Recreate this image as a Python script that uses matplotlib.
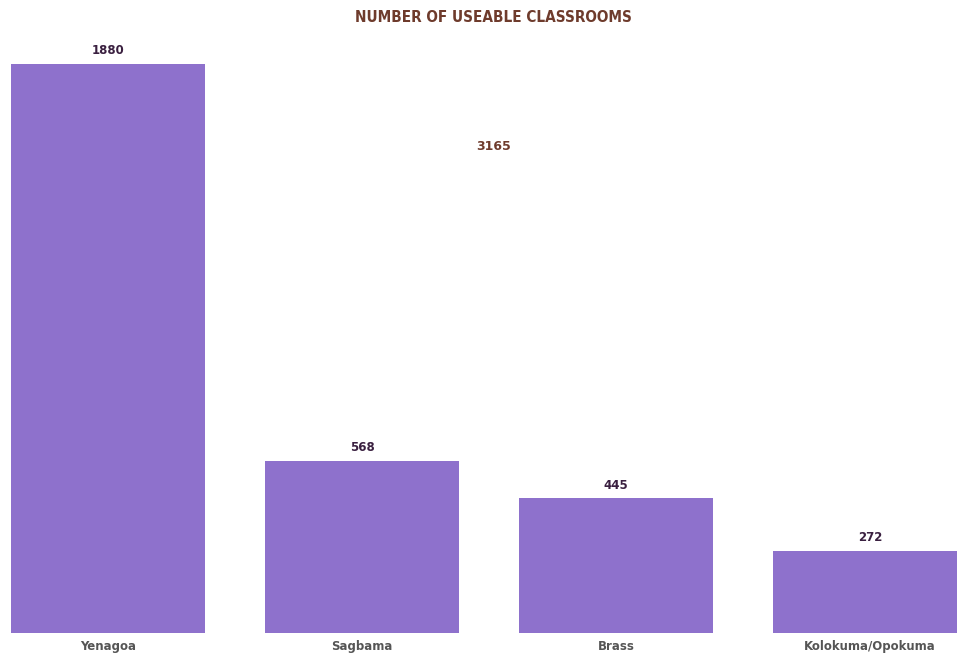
import matplotlib
matplotlib.use("Agg")
import matplotlib.pyplot as plt

categories = ["Yenagoa", "Sagbama", "Brass", "Kolokuma/Opokuma"]
classrooms = [1880, 568, 445, 272]
total = sum(classrooms)

W, H = 957, 654
fig = plt.figure(figsize=(W / 100, H / 100), dpi=100)
fig.patch.set_facecolor("white")

# Axes spanning the full width; baseline at y=633 px, top at y=40 px
base_px, top_px = 633, 40
ax = fig.add_axes([0, (H - base_px) / H, 1, (base_px - top_px) / H])
px_per_unit = 569 / 1880
ax.set_ylim(0, (base_px - top_px) / px_per_unit)
ax.set_xlim(-108 / 254, (957 - 108) / 254)

x = list(range(len(categories)))
ax.bar(x, classrooms, width=194 / 254, color="#8E71CC", zorder=2)

for xi, v in zip(x, classrooms):
    ax.text(xi, v + 22, f"{v}", ha="center", va="bottom", fontsize=8.5,
            fontweight="bold", color="#3A2040", family="DejaVu Sans")

ax.set_xticks(x)
ax.set_xticklabels(categories, fontsize=8.5, fontweight="bold", color="#555555")
ax.tick_params(axis="x", length=0, pad=5)
ax.set_yticks([])
for s in ax.spines.values():
    s.set_visible(False)
ax.set_facecolor("none")

fig.text(493 / W, 1 - 18 / H, "NUMBER OF USEABLE CLASSROOMS", ha="center", va="center",
         fontsize=11, fontweight="bold", color="#6E3B2C",
         family="DejaVu Sans", fontstretch="condensed")
fig.text(494 / W, 1 - 146 / H, f"{total}", ha="center", va="center",
         fontsize=9, fontweight="bold", color="#6E3B2C", family="DejaVu Sans")

fig.savefig("out.png", dpi=100)
